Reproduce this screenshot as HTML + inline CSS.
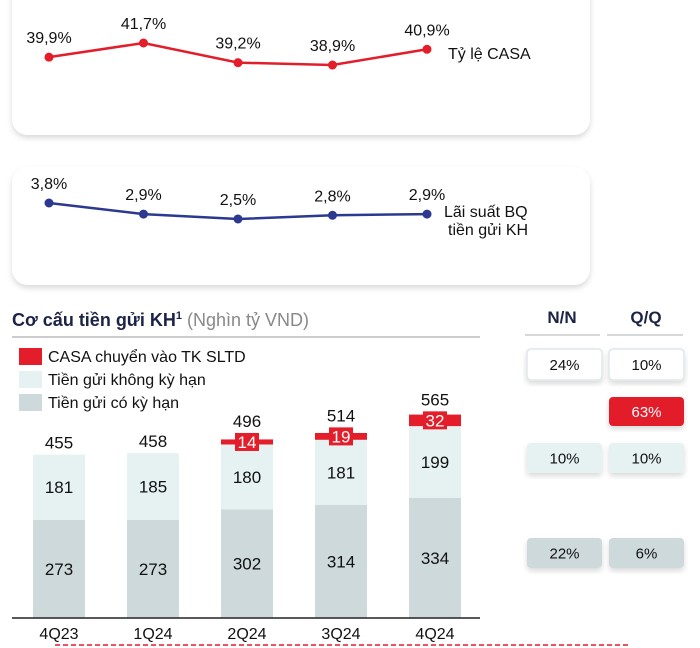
<!DOCTYPE html>
<html><head><meta charset="utf-8"><style>
body{margin:0;background:#fff;}
svg{display:block;font-family:"Liberation Sans",sans-serif;}
</style></head><body>
<svg id="c" width="700" height="648" viewBox="0 0 700 648" xmlns="http://www.w3.org/2000/svg">
<defs><filter id="sh" x="-5%" y="-10%" width="110%" height="130%"><feDropShadow dx="0" dy="3" stdDeviation="3" flood-color="#000" flood-opacity="0.15"/></filter></defs>
<rect x="12" y="-20" width="578" height="155" rx="16" fill="#fff" filter="url(#sh)"/>
<rect x="12" y="167" width="578" height="118" rx="16" fill="#fff" filter="url(#sh)"/>
<g id="casa"></g>
<text x="448" y="59" font-size="16" fill="#111">Tỷ lệ CASA</text>
<g id="rate"></g>
<text x="444" y="217" font-size="16" fill="#111">Lãi suất BQ</text>
<text x="448" y="235" font-size="16" fill="#111">tiền gửi KH</text>

<text x="12" y="326" font-size="18" font-weight="bold" fill="#1c2346">Cơ cấu tiền gửi KH<tspan font-size="11" dy="-7">1</tspan><tspan dy="7" font-weight="normal" fill="#888"> (Nghìn tỷ VND)</tspan></text>
<line x1="12" y1="337" x2="480" y2="337" stroke="#ccc" stroke-width="2"/>
<rect x="19" y="348" width="23" height="17" fill="#e31e2a"/>
<text x="48" y="362" font-size="16" fill="#111">CASA chuyển vào TK SLTD</text>
<rect x="19" y="371" width="23" height="17" fill="#e6f2f2"/>
<text x="48" y="385" font-size="16" fill="#111">Tiền gửi không kỳ hạn</text>
<rect x="19" y="394" width="23" height="17" fill="#ced9dc"/>
<text x="48" y="408" font-size="16" fill="#111">Tiền gửi có kỳ hạn</text>
<g id="bars"></g>
<line x1="12" y1="618" x2="480" y2="618" stroke="#222" stroke-width="1.5"/>

<text x="562" y="323" font-size="17" font-weight="bold" text-anchor="middle" fill="#1c2346">N/N</text>
<text x="646" y="323" font-size="17" font-weight="bold" text-anchor="middle" fill="#1c2346">Q/Q</text>
<line x1="525" y1="335" x2="600" y2="335" stroke="#ccc" stroke-width="1.5"/>
<line x1="607" y1="335" x2="683" y2="335" stroke="#ccc" stroke-width="1.5"/>
<g id="boxes"></g>
<line x1="55" y1="645" x2="630" y2="645" stroke="#e31e2a" stroke-width="1.5" stroke-dasharray="5,3"/>
</svg>
<script>
const quarters=["4Q23","1Q24","2Q24","3Q24","4Q24"];
const casaRatio=[39.9,41.7,39.2,38.9,40.9];
const casaLabels=["39,9%","41,7%","39,2%","38,9%","40,9%"];
const depRate=[3.8,2.9,2.5,2.8,2.9];
const depRateLabels=["3,8%","2,9%","2,5%","2,8%","2,9%"];
const termDep=[273,273,302,314,334];
const demandDep=[181,185,180,181,199];
const casaSltd=[0,0,14,19,32];
const totals=[455,458,496,514,565];
const yoy=["24%","","10%","22%"];
const qoq=["10%","63%","10%","6%"];

const NS="http://www.w3.org/2000/svg";
function mk(p,t,a){const e=document.createElementNS(NS,t);for(const k in a)e.setAttribute(k,a[k]);p.appendChild(e);return e;}
const lx=i=>49+i*94.5;
function line(g,vals,labels,y,col,name){
  const pts=vals.map((v,i)=>[lx(i),y(v)]);
  const pl=mk(g,"polyline",{points:pts.map(p=>p.join(",")).join(" "),fill:"none",stroke:col,"stroke-width":2.5});
  
  
  pts.forEach((p,i)=>{
    const c=mk(g,"circle",{cx:p[0],cy:p[1],r:4.5,fill:col});
    
    
    const t=mk(g,"text",{x:p[0],y:p[1]-14,"font-size":16,"text-anchor":"middle",fill:"#111"});
    t.textContent=labels[i];
    
    
  });
}
line(document.getElementById("casa"),casaRatio,casaLabels,v=>43+(41.7-v)*7.86,"#e31e2a","casa");
line(document.getElementById("rate"),depRate,depRateLabels,v=>203+(3.8-v)*12.3,"#2b3990","rate");

const bg=document.getElementById("bars");
const base=618,k=0.36,bw=52,bx=i=>59+i*94;
quarters.forEach((q,i)=>{
  const x=bx(i)-bw/2;
  const hT=termDep[i]*k,hD=demandDep[i]*k,hC=casaSltd[i]*k;
  const r1=mk(bg,"rect",{x:x,y:base-hT,width:bw,height:hT,fill:"#ced9dc"});
  
  
  const r2=mk(bg,"rect",{x:x,y:base-hT-hD,width:bw,height:hD,fill:"#e6f2f2"});
  
  
  const t1=mk(bg,"text",{x:bx(i),y:base-hT/2+6,"font-size":17,"text-anchor":"middle",fill:"#111"});t1.textContent=termDep[i];
  
  
  const t2=mk(bg,"text",{x:bx(i),y:base-hT-hD/2+6,"font-size":17,"text-anchor":"middle",fill:"#111"});t2.textContent=demandDep[i];
  
  
  let top=base-hT-hD;
  if(casaSltd[i]>0){
    const r3=mk(bg,"rect",{x:x,y:top-hC,width:bw,height:hC,fill:"#e31e2a"});
    
    
    const cy=top-hC/2;
    const bb=mk(bg,"rect",{x:bx(i)-12,y:cy-9,width:24,height:18,fill:"#e31e2a"});
    
    
    const t3=mk(bg,"text",{x:bx(i),y:cy+6,"font-size":17,"text-anchor":"middle",fill:"#fff"});t3.textContent=casaSltd[i];
    
    
    top=Math.min(top-hC,cy-9);
  }
  const tt=mk(bg,"text",{x:bx(i),y:top-6,"font-size":17,"text-anchor":"middle",fill:"#111"});tt.textContent=totals[i];
  
  
  const tq=mk(bg,"text",{x:bx(i),y:639,"font-size":16,"text-anchor":"middle",fill:"#111"});tq.textContent=q;
  
  
});

const boxg=document.getElementById("boxes");
const rowsY=[349,397,443,538],rowsH=[31,29,30,30];
const fills=["#fff","#e31e2a","#e6f2f2","#ced9dc"];
function box(x,y,h,fill,txt,name){
  const r=mk(boxg,"rect",{x:x,y:y,width:75,height:h,rx:4,fill:fill,stroke:fill==="#fff"?"#dde8ea":"none","stroke-width":1.5,filter:"url(#sh)"});
  
  
  const t=mk(boxg,"text",{x:x+37.5,y:y+h/2+5.5,"font-size":15,"text-anchor":"middle",fill:fill==="#e31e2a"?"#fff":"#111"});
  t.textContent=txt;
  
  
}
rowsY.forEach((y,i)=>{
  if(yoy[i])box(527,y,rowsH[i],fills[i],yoy[i],'yoy');
  if(qoq[i])box(609,y,rowsH[i],fills[i],qoq[i],'qoq');
});
</script>
</body></html>
